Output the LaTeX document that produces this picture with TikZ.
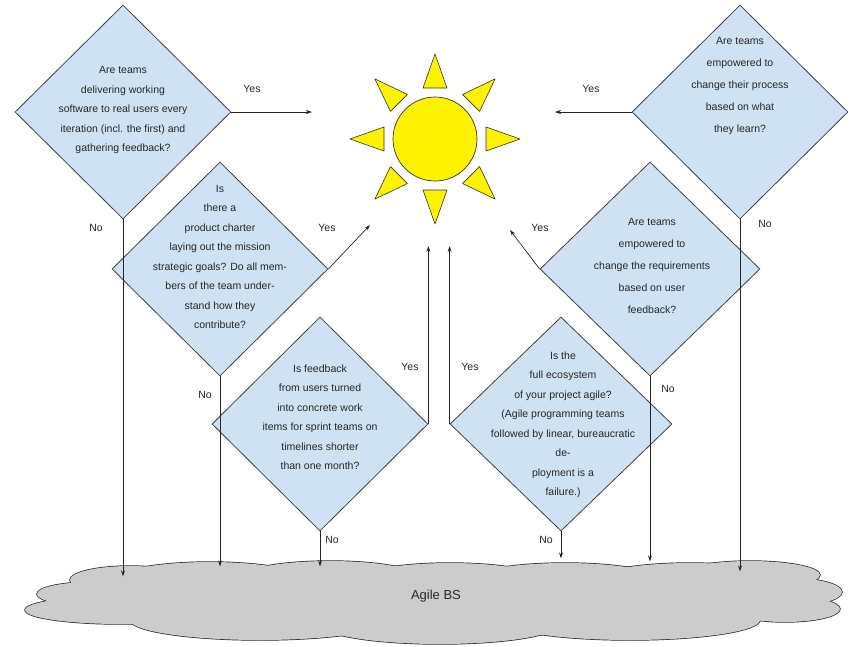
\documentclass[tikz,border=0pt]{standalone}
\usepackage{fontspec}
\setmainfont{Liberation Sans}
\usetikzlibrary{shapes.geometric,arrows.meta,calc}
\definecolor{dfill}{HTML}{CFE2F3}
\definecolor{dline}{HTML}{404040}
\definecolor{sun}{HTML}{FFF200}
\definecolor{cl}{HTML}{CCCCCC}
\begin{document}
\begin{tikzpicture}[x=1pt,y=-1pt,
  dia/.style={diamond,draw=dline,fill=dfill,line width=0.8pt,inner sep=0pt,minimum width=216pt,minimum height=214pt},
  txt/.style={align=center,font=\fontsize{10.5}{19.5}\selectfont,text=black!85,inner sep=0pt},
  lab/.style={font=\fontsize{10.5}{12}\selectfont,text=black!85,inner sep=0pt},
  arr/.style={-{Stealth[length=6pt,width=4pt]},line width=0.7pt,draw=black!85},
  ray/.style={fill=sun,draw=black!80,line width=0.6pt,line join=round}]
\useasboundingbox (0,0) rectangle (856,646);
% sun
\coordinate (S) at (435,139);
\foreach \a in {0,45,...,315}{
  \draw[ray] ($(S)+(\a:85)$) -- ($(S)+(\a:51)+(\a+90:12)$) -- ($(S)+(\a:51)+(\a-90:12)$) -- cycle;
}
\node[circle,fill=sun,draw=black!80,line width=0.7pt,minimum size=84pt,inner sep=0pt] (sun) at (S) {};
% cloud
\def\puffs{210/582/100/20, 330/578/90/17, 450/579/90/16, 565/580/95/17, 690/580/95/17, 92/594/55/12, 120/610/95/14, 260/620/130/20, 440/624/120/20, 630/620/130/20, 790/592/52/14, 785/609/55/13, 750/575/70/14, 130/580/60/14}
\foreach \x/\y/\rx/\ry in \puffs {\draw[fill=cl,draw=black!85,line width=1.4pt] (\x,\y) ellipse [x radius=\rx, y radius=\ry];}
\foreach \x/\y/\rx/\ry in \puffs {\fill[cl] (\x,\y) ellipse [x radius=\rx, y radius=\ry];}
\fill[cl] (110,590) rectangle (800,615);
\node[font=\fontsize{13}{15}\selectfont,text=black!85] (bs) at (436,596) {Agile BS};
% diamonds
\node[dia] (d1) at (123,112) {};
\node[dia] (d2) at (220,269) {};
\node[dia] (d3) at (320,424) {};
\node[dia,minimum width=222pt] (d4) at (561,424) {};
\node[dia,minimum width=220pt] (d5) at (650,269) {};
\node[dia] (d6) at (740,112) {};
\node[txt] (t1) at (123,110) {Are teams\\delivering working\\software to real users every\\iteration (incl. the first) and\\gathering feedback?};
\node[txt] (t2) at (220,257) {Is\\there a\\product charter\\laying out the mission\\strategic goals? Do all mem-\\bers of the team under-\\stand how they\\contribute?};
\node[txt] (t3) at (320,417) {Is feedback\\from users turned\\into concrete work\\items for sprint teams on\\timelines shorter\\than one month?};
\node[txt] (t4) at (563,425) {Is the\\full ecosystem\\of your project agile?\\(Agile programming teams\\followed by linear, bureaucratic\\de-\\ployment is a\\failure.)};
\node[txt,font=\fontsize{10.5}{22}\selectfont] (t5) at (652,266) {Are teams\\empowered to\\change the requirements\\based on user\\feedback?};
\node[txt,font=\fontsize{10.5}{22}\selectfont] (t6) at (740,86) {Are teams\\empowered to\\change their process\\based on what\\they learn?};
% targets
\coordinate (y1) at (312,112);
\coordinate (y2) at (370,225);
\coordinate (y3) at ($(d3.east)+(0,-178)$);
\coordinate (y4) at ($(d4.west)+(0,-178)$);
\coordinate (y5) at (510,230);
\coordinate (y6) at (555,112);
\coordinate (n1) at ($(d1.south)+(0,357)$);
\coordinate (n2) at ($(d2.south)+(0,190)$);
\coordinate (n3) at ($(d3.south)+(0,35)$);
\coordinate (n4) at ($(d4.south)+(0,27)$);
\coordinate (n5) at ($(d5.south)+(0,185)$);
\coordinate (n6) at ($(d6.south)+(0,352)$);
% yes arrows
\draw[arr] (d1.east) -- (y1);
\draw[arr] (d2.east) -- (y2);
\draw[arr] (d3.east) -- (y3);
\draw[arr] (d4.west) -- (y4);
\draw[arr] (d5.west) -- (y5);
\draw[arr] (d6.west) -- (y6);
% no arrows
\draw[arr] (d1.south) -- (n1);
\draw[arr] (d2.south) -- (n2);
\draw[arr] (d3.south) -- (n3);
\draw[arr] (d4.south) -- (n4);
\draw[arr] (d5.south) -- (n5);
\draw[arr] (d6.south) -- (n6);
% labels
\node[lab] (ly1) at (252,89) {Yes};
\node[lab] (ly2) at (327,228) {Yes};
\node[lab] (ly3) at (410,367) {Yes};
\node[lab] (ly4) at (470,367) {Yes};
\node[lab] (ly5) at (540,228) {Yes};
\node[lab] (ly6) at (591,89) {Yes};
\node[lab] (ln1) at (96,228) {No};
\node[lab] (ln2) at (205,395) {No};
\node[lab] (ln3) at (332,540) {No};
\node[lab] (ln4) at (546,540) {No};
\node[lab] (ln5) at (668,389) {No};
\node[lab] (ln6) at (765,224) {No};
\end{tikzpicture}
\end{document}
